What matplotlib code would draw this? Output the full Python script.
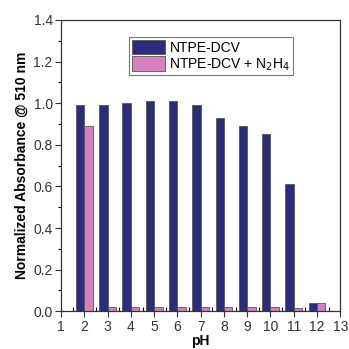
import matplotlib
matplotlib.use("Agg")
import matplotlib.pyplot as plt
import numpy as np
from matplotlib.ticker import MultipleLocator

plt.rcParams['font.family'] = ['Liberation Sans', 'DejaVu Sans']

ph = [2, 3, 4, 5, 6, 7, 8, 9, 10, 11, 12]
ntpe_dcv = [0.99, 0.99, 1.00, 1.01, 1.01, 0.99, 0.93, 0.89, 0.85, 0.61, 0.04]
ntpe_dcv_n2h4 = [0.89, 0.02, 0.02, 0.02, 0.02, 0.02, 0.02, 0.02, 0.02, 0.015, 0.04]
labels = ["NTPE-DCV", "NTPE-DCV + N$_2$H$_4$"]

fig = plt.figure(figsize=(3.49, 3.49), dpi=100)
ax = fig.add_axes([0.175, 0.108, 0.800, 0.835])

x = np.array(ph)
w = 0.36
ax.bar(x - w/2, ntpe_dcv, width=w, color='#2b2c7c', edgecolor='#555555', linewidth=0.6, label=labels[0])
ax.bar(x + w/2, ntpe_dcv_n2h4, width=w, color='#d47fbf', edgecolor='#555555', linewidth=0.6, label=labels[1])

ax.set_xlim(1, 13)
ax.set_ylim(0, 1.4)
ax.set_xticks(range(1, 14))
ax.xaxis.set_minor_locator(MultipleLocator(0.5))
ax.yaxis.set_major_locator(MultipleLocator(0.2))
ax.yaxis.set_minor_locator(MultipleLocator(0.1))
ax.yaxis.set_major_formatter(matplotlib.ticker.FormatStrFormatter('%.1f'))
ax.tick_params(axis='both', which='major', direction='out', length=4, width=0.8, labelsize=10, colors='#333333', pad=2)
ax.tick_params(axis='x', which='minor', direction='in', length=3, width=0.8)
ax.tick_params(axis='y', which='minor', direction='out', length=2.5, width=0.8)
for s in ax.spines.values():
    s.set_linewidth(0.9)
    s.set_color('#333333')

ax.set_xlabel('pH', fontsize=10, fontweight='bold', labelpad=0)
ax.set_ylabel('Normalized Absorbance @ 510 nm', fontsize=10, fontweight='bold', labelpad=3)

leg = ax.legend(loc='upper center', bbox_to_anchor=(0.538, 0.95), fontsize=10, frameon=True, fancybox=False,
                edgecolor='#555555', handlelength=2.4, handleheight=1.2, borderpad=0.2, labelspacing=0.1,
                handletextpad=0.3, borderaxespad=0.2)
leg.get_frame().set_linewidth(0.8)

fig.savefig('out.png', dpi=100)
